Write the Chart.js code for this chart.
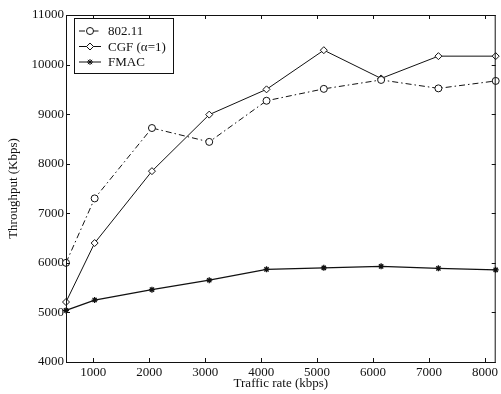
<!DOCTYPE html>
<html>
<head>
<meta charset="utf-8">
<script src="https://cdn.jsdelivr.net/npm/chart.js@4/dist/chart.umd.min.js"></script>
<style>
  html, body { margin: 0; padding: 0; background: #fff; }
  #wrap { width: 501px; height: 394px; position: relative; }
</style>
</head>
<body>
<div id="wrap"><canvas id="myChart"></canvas></div>
<script>
// offered traffic rate (kbps) and measured throughput (Kbps) per MAC scheme
var rates = [512, 1024, 2048, 3072, 4096, 5120, 6144, 7168, 8192];
var dcf = [6000, 7300, 8720, 8440, 9270, 9510, 9690, 9520, 9670];
var cgf = [5210, 6400, 7850, 8990, 9500, 10290, 9720, 10170, 10170];
var fmac = [5040, 5250, 5460, 5650, 5870, 5900, 5930, 5890, 5860];
var xTicks = [1000, 2000, 3000, 4000, 5000, 6000, 7000, 8000];
var yTicks = [4000, 5000, 6000, 7000, 8000, 9000, 10000, 11000];

var ink = "#111";
Chart.defaults.font.family = "'Liberation Serif', 'Times New Roman', serif";
Chart.defaults.font.size = 13;
Chart.defaults.color = ink;

function pts(ys) {
  return ys.map(function (y, i) { return {x: rates[i], y: y}; });
}

// box round the plot, inward ticks on all four sides, legend in the corner
var frame = {
  id: "frame",
  afterDatasetsDraw: function (chart) {
    var ctx = chart.ctx, a = chart.chartArea;
    var xs = chart.scales.x, ys = chart.scales.y;
    ctx.save();
    ctx.strokeStyle = ink;
    ctx.lineWidth = 1;
    ctx.strokeRect(a.left + 0.5, a.top + 0.5, a.right - a.left - 1, a.bottom - a.top);
    ctx.beginPath();
    xTicks.forEach(function (v) {
      var px = Math.round(xs.getPixelForValue(v)) + 0.5;
      ctx.moveTo(px, a.bottom); ctx.lineTo(px, a.bottom - 4);
      ctx.moveTo(px, a.top); ctx.lineTo(px, a.top + 4);
    });
    yTicks.forEach(function (v) {
      var py = Math.round(ys.getPixelForValue(v)) + 0.5;
      ctx.moveTo(a.left, py); ctx.lineTo(a.left + 4, py);
      ctx.moveTo(a.right, py); ctx.lineTo(a.right - 4, py);
    });
    ctx.stroke();

    // legend
    var bx = 74, by = 18, bw = 99, bh = 55;
    ctx.fillStyle = "#fff";
    ctx.fillRect(bx, by, bw, bh);
    ctx.strokeRect(bx + 0.5, by + 0.5, bw, bh);
    ctx.font = "13px 'Liberation Serif', 'Times New Roman', serif";
    ctx.textBaseline = "middle";
    chart.data.datasets.forEach(function (ds, i) {
      var y = by + 13 + i * 15.5;
      ctx.strokeStyle = ink;
      ctx.lineWidth = 1;
      ctx.setLineDash(ds.borderDash || []);
      ctx.beginPath();
      ctx.moveTo(bx + 5, y); ctx.lineTo(bx + 27, y);
      ctx.stroke();
      ctx.setLineDash([]);
      ctx.fillStyle = "#fff";
      Chart.helpers.drawPoint(ctx, {
        pointStyle: ds.pointStyle, radius: ds.pointRadius,
        borderWidth: 1, rotation: 0
      }, bx + 16, y);
      ctx.fillStyle = ink;
      ctx.fillText(ds.label, bx + 34, y + 1);
    });
    ctx.restore();
  }
};

new Chart("myChart", {
  type: "line",
  data: {
    datasets: [{
      label: "802.11",
      data: pts(dcf),
      borderColor: ink,
      borderWidth: 1,
      borderDash: [6, 3, 1.5, 3],
      pointStyle: "circle",
      pointRadius: 3.5,
      pointBackgroundColor: "#fff",
      pointBorderColor: ink,
      clip: false
    }, {
      label: "CGF (\u03b1=1)",
      data: pts(cgf),
      borderColor: ink,
      borderWidth: 1,
      pointStyle: "rectRot",
      pointRadius: 3.5,
      pointBackgroundColor: "#fff",
      pointBorderColor: ink,
      clip: false
    }, {
      label: "FMAC",
      data: pts(fmac),
      borderColor: ink,
      borderWidth: 1.3,
      pointStyle: "star",
      pointRadius: 3,
      pointBackgroundColor: ink,
      pointBorderColor: ink,
      clip: false
    }]
  },
  options: {
    responsive: true,
    maintainAspectRatio: false,
    animation: false,
    layout: {padding: {top: 15, right: 1, left: 0, bottom: 0}},
    plugins: {
      legend: {display: false},
      tooltip: {enabled: false}
    },
    scales: {
      x: {
        type: "linear",
        min: 512,
        max: 8192,
        grid: {display: false, drawTicks: false},
        border: {display: false},
        afterBuildTicks: function (s) {
          s.ticks = xTicks.map(function (v) { return {value: v}; });
        },
        afterFit: function (s) {
          s.height = 32;
          s.paddingLeft = 0;
          s.paddingRight = 0;
        },
        ticks: {
          maxRotation: 0,
          autoSkip: false,
          padding: 3,
          callback: function (v) { return String(v); }
        },
        title: {
          display: true,
          text: "Traffic rate (kbps)",
          padding: {top: 0, bottom: 3}
        }
      },
      y: {
        min: 4000,
        max: 11000,
        grid: {display: false, drawTicks: false},
        border: {display: false},
        afterBuildTicks: function (s) {
          s.ticks = yTicks.map(function (v) { return {value: v}; });
        },
        afterFit: function (s) {
          s.width = 66;
        },
        ticks: {
          padding: 2,
          callback: function (v) { return String(v); }
        },
        title: {
          display: true,
          text: "Throughput (Kbps)",
          padding: {top: 6, bottom: 0}
        }
      }
    }
  },
  plugins: [frame]
});
</script>
</body>
</html>
